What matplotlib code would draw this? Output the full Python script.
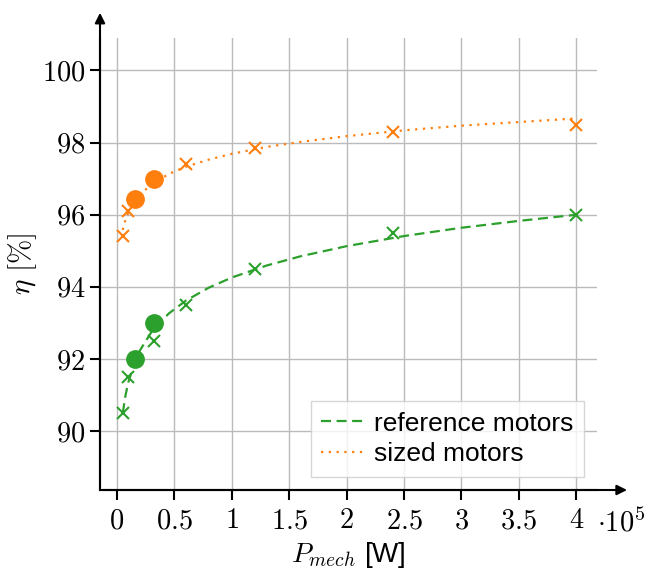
import matplotlib
matplotlib.use('Agg')
import matplotlib.pyplot as plt
from matplotlib.ticker import FuncFormatter

plt.rcParams['font.family'] = ['Liberation Sans', 'DejaVu Sans']
plt.rcParams['mathtext.fontset'] = 'cm'

# measured points
P_ref = [5000, 10000, 32000, 60000, 120000, 240000, 400000]
eta_ref = [90.5, 91.5, 92.5, 93.5, 94.5, 95.5, 96.0]
P_sized = [5000, 10000, 60000, 120000, 240000, 400000]
eta_sized = [95.4, 96.1, 97.4, 97.85, 98.3, 98.5]

# highlighted motors
P_sel = [16000, 32000]
eta_sel_ref = [92.0, 93.0]
eta_sel_sized = [96.45, 97.0]

# trend curves
P_curve = [5000, 7500, 10000, 15000, 20000, 30000, 45000, 60000, 80000,
           100000, 130000, 160000, 200000, 250000, 300000, 350000, 400000]
eta_curve_ref = [90.5, 91.01, 91.37, 91.88, 92.24, 92.75, 93.26, 93.62, 93.98,
                 94.26, 94.59, 94.85, 95.13, 95.41, 95.64, 95.83, 96.0]
eta_curve_sized = [95.58, 95.87, 96.07, 96.35, 96.56, 96.84, 97.13, 97.33, 97.53,
                   97.69, 97.88, 98.02, 98.18, 98.34, 98.47, 98.57, 98.67]

xticks = [0, 50000, 100000, 150000, 200000, 250000, 300000, 350000, 400000]
yticks = [90, 92, 94, 96, 98, 100]

green = '#2ca02c'
orange = '#ff7f0e'

fig = plt.figure(figsize=(6.47, 5.71), dpi=100)
ax = fig.add_axes([100/647, 81/571, 497/647, 452/571])

ax.plot(P_curve, eta_curve_ref, color=green, lw=1.6, dashes=(4.5, 2.5),
        label='reference motors')
ax.plot(P_curve, eta_curve_sized, color=orange, lw=1.6, dashes=(1, 2.5),
        label='sized motors')
ax.plot(P_ref, eta_ref, 'x', color=green, ms=8.5, mew=1.5)
ax.plot(P_sized, eta_sized, 'x', color=orange, ms=8.5, mew=1.5)
ax.plot(P_sel, eta_sel_ref, 'o', color=green, ms=12.5)
ax.plot(P_sel, eta_sel_sized, 'o', color=orange, ms=12.5)

ax.set_xlim(-14800, 418000)
ax.set_ylim(88.37, 100.9)
ax.set_xticks(xticks)
ax.set_yticks(yticks)
ax.xaxis.set_major_formatter(FuncFormatter(lambda v, p: '$%g$' % (v / 1e5)))
ax.yaxis.set_major_formatter(FuncFormatter(lambda v, p: '$%g$' % v))
ax.tick_params(labelsize=20.5, length=7, width=1.5, direction='out')
ax.tick_params(axis='x', pad=6)
ax.grid(True, color='#bbbbbb', lw=1)
ax.set_axisbelow(True)

for s in ['top', 'right']:
    ax.spines[s].set_visible(False)
for s in ['left', 'bottom']:
    ax.spines[s].set_linewidth(1.5)

# axis arrows
ax.annotate('', xy=(1.066, 0), xytext=(0, 0), xycoords='axes fraction',
            arrowprops=dict(arrowstyle='-|>', lw=1.5, color='black', mutation_scale=15),
            annotation_clip=False)
ax.annotate('', xy=(0, 1.062), xytext=(0, 0), xycoords='axes fraction',
            arrowprops=dict(arrowstyle='-|>', lw=1.5, color='black', mutation_scale=15),
            annotation_clip=False)

ax.text(1.048, -0.073, r'$\cdot 10^5$', transform=ax.transAxes, fontsize=20.5,
        ha='center', va='center')

ax.set_xlabel(r'$P_{mech}$ [W]', fontsize=20, labelpad=4)
ax.set_ylabel(r'$\eta\ [\%]$', fontsize=21, labelpad=2)

leg = ax.legend(loc='lower right', fontsize=19, frameon=True, fancybox=False,
                edgecolor='#cccccc', handlelength=1.7, handletextpad=0.3,
                labelspacing=0.25, borderpad=0.4, borderaxespad=0.5)
leg.get_frame().set_linewidth(1)

fig.savefig('out.png', dpi=100)
